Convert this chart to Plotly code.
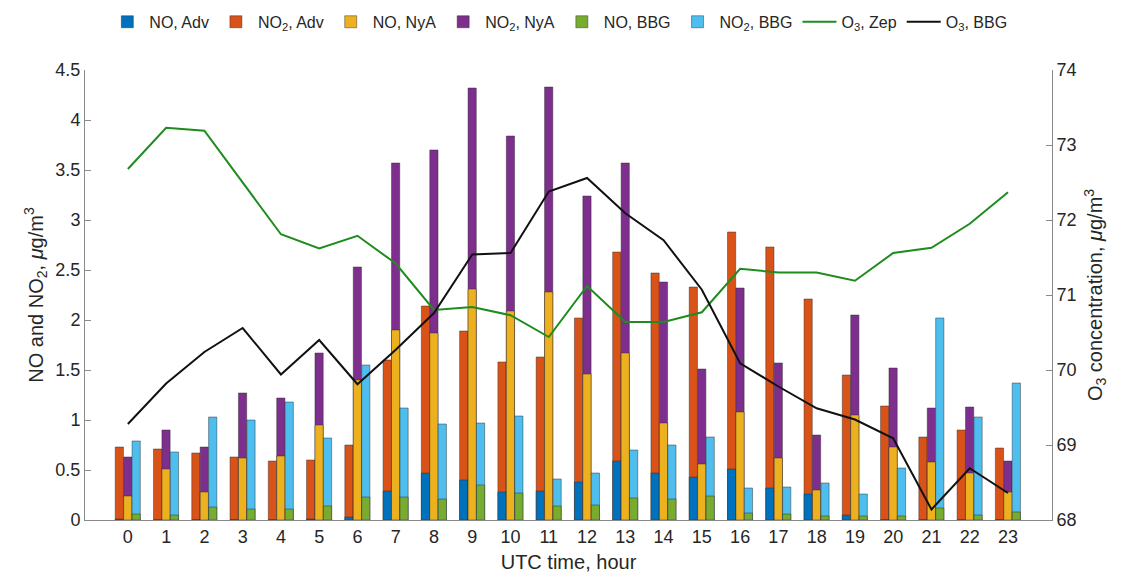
import plotly.graph_objects as go

hours = list(range(24))

no_adv = [0.01, 0.0, 0.0, 0.0, 0.0, 0.01, 0.03, 0.29, 0.47, 0.40, 0.28, 0.29, 0.38, 0.59, 0.47, 0.43,
          0.51, 0.32, 0.26, 0.05, 0.0, 0.0, 0.0, 0.0]
no2_adv = [0.73, 0.71, 0.67, 0.63, 0.59, 0.60, 0.75, 1.60, 2.14, 1.89, 1.58, 1.63, 2.02, 2.68, 2.47, 2.33,
           2.88, 2.73, 2.21, 1.45, 1.14, 0.83, 0.90, 0.72]
no_nya = [0.24, 0.51, 0.28, 0.62, 0.64, 0.95, 1.40, 1.90, 1.87, 2.31, 2.09, 2.28, 1.46, 1.67, 0.97, 0.56,
          1.08, 0.62, 0.30, 1.05, 0.73, 0.58, 0.47, 0.28]
no2_nya = [0.63, 0.90, 0.73, 1.27, 1.22, 1.67, 2.53, 3.57, 3.70, 4.32, 3.84, 4.33, 3.24, 3.57, 2.38, 1.51,
           2.32, 1.57, 0.85, 2.05, 1.52, 1.12, 1.13, 0.59]
no_bbg = [0.06, 0.05, 0.13, 0.11, 0.11, 0.14, 0.23, 0.23, 0.21, 0.35, 0.27, 0.14, 0.15, 0.22, 0.21, 0.24,
          0.07, 0.06, 0.04, 0.04, 0.04, 0.12, 0.05, 0.08]
no2_bbg = [0.79, 0.68, 1.03, 1.00, 1.18, 0.82, 1.55, 1.12, 0.96, 0.97, 1.04, 0.41, 0.47, 0.70, 0.75, 0.83,
           0.32, 0.33, 0.37, 0.26, 0.52, 2.02, 1.03, 1.37]
o3_zep = [72.68, 73.23, 73.19, 72.50, 71.81, 71.62, 71.79, 71.42, 70.80, 70.84, 70.73, 70.44, 71.12, 70.64,
          70.64, 70.77, 71.35, 71.30, 71.30, 71.19, 71.56, 71.63, 71.95, 72.37]
o3_bbg = [69.28, 69.82, 70.24, 70.56, 69.94, 70.40, 69.81, 70.27, 70.76, 71.54, 71.56, 72.38, 72.56, 72.09,
          71.73, 71.07, 70.09, 69.78, 69.49, 69.34, 69.09, 68.14, 68.69, 68.36]
y_ticks = [0, 0.5, 1, 1.5, 2, 2.5, 3, 3.5, 4, 4.5]
y_ticklabels = ["0", "0.5", "1", "1.5", "2", "2.5", "3", "3.5", "4", "4.5"]
y2_ticks = [68, 69, 70, 71, 72, 73, 74]

C_BLUE = "#0072BD"
C_ORANGE = "#D95319"
C_YELLOW = "#EDB120"
C_PURPLE = "#7E2F8E"
C_GREEN = "#77AC30"
C_LBLUE = "#4DBEEE"

W = 0.215
edge = dict(color="rgba(40,40,40,0.75)", width=0.6)

fig = go.Figure()

def add_bar(y, name, color, offset, rank):
    fig.add_trace(go.Bar(x=hours, y=y, name=name, marker=dict(color=color, line=edge),
                         offset=offset, width=W, legendrank=rank))

# NO2 first (behind), NO in front
add_bar(no2_adv, "NO<sub>2</sub>, Adv", C_ORANGE, -0.33, 2)
add_bar(no_adv, "NO, Adv", C_BLUE, -0.33, 1)
add_bar(no2_nya, "NO<sub>2</sub>, NyA", C_PURPLE, -0.11, 4)
add_bar(no_nya, "NO, NyA", C_YELLOW, -0.11, 3)
add_bar(no2_bbg, "NO<sub>2</sub>, BBG", C_LBLUE, 0.11, 6)
add_bar(no_bbg, "NO, BBG", C_GREEN, 0.11, 5)

fig.add_trace(go.Scatter(x=hours, y=o3_zep, name="O<sub>3</sub>, Zep", mode="lines",
                         line=dict(color="#1E8C1E", width=2), yaxis="y2", legendrank=7))
fig.add_trace(go.Scatter(x=hours, y=o3_bbg, name="O<sub>3</sub>, BBG", mode="lines",
                         line=dict(color="#111111", width=2), yaxis="y2", legendrank=8))

font_main = "Liberation Sans, Arial, sans-serif"
axis_col = "#8a8a8a"

fig.update_layout(
    width=1122, height=578,
    margin=dict(l=85, r=70, t=70, b=58, autoexpand=False),
    barmode="overlay",
    plot_bgcolor="white", paper_bgcolor="white",
    font=dict(family=font_main, size=18, color="#262626"),
    showlegend=True,
    legend=dict(orientation="h", x=0.49, xanchor="center", y=1.107, yanchor="middle",
                font=dict(size=16, color="#262626"), traceorder="normal",
                itemwidth=34, tracegroupgap=0, bgcolor="rgba(0,0,0,0)"),
    xaxis=dict(range=[-1.12, 24.15], tickmode="array", tickvals=hours,
               ticktext=[str(h) for h in hours], showgrid=False, zeroline=False,
               showline=True, linecolor=axis_col, linewidth=1, ticks="",
               tickfont=dict(size=18),
               title=dict(text="UTC time, hour", standoff=9, font=dict(size=20))),
    yaxis=dict(range=[0, 4.5], tickvals=y_ticks, ticktext=y_ticklabels,
               showgrid=False, zeroline=False, showline=True, linecolor=axis_col, linewidth=1,
               ticks="inside", ticklen=6, tickcolor=axis_col, tickfont=dict(size=18),
               title=dict(text="NO and NO<sub>2</sub>, <i>μ</i>g/m<sup>3</sup>", standoff=6,
                          font=dict(size=20))),
    yaxis2=dict(range=[68, 74], tickvals=y2_ticks, overlaying="y", side="right",
                showgrid=False, zeroline=False, showline=True, linecolor=axis_col, linewidth=1,
                ticks="inside", ticklen=6, tickcolor=axis_col, tickfont=dict(size=18),
                title=dict(text="O<sub>3</sub> concentration, <i>μ</i>g/m<sup>3</sup>", standoff=12,
                           font=dict(size=20))),
)

fig.write_html("out.html")
